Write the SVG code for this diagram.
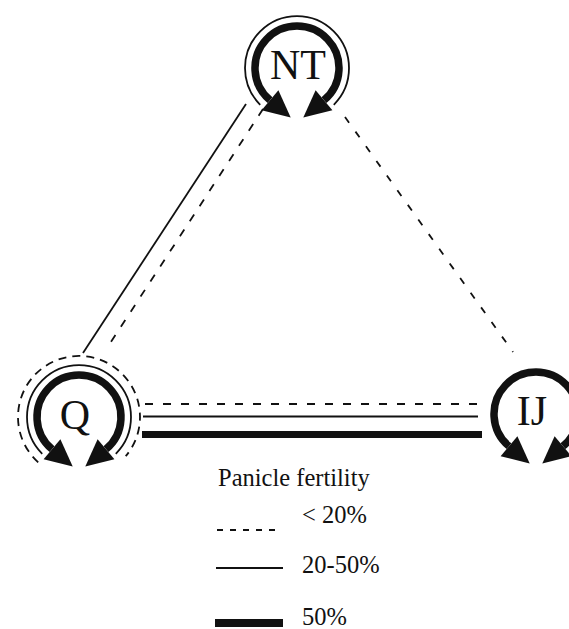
<svg xmlns="http://www.w3.org/2000/svg" width="569" height="629" viewBox="0 0 569 629">
<style>
text{font-family:'Liberation Serif','Times New Roman','DejaVu Serif',serif;fill:#111}
.lbl{font-size:42px;text-anchor:middle}
.leg{font-size:24.5px}
.ring{fill:none;stroke:#111;stroke-width:7.5}
.thin{fill:none;stroke:#111;stroke-width:1.8}
.dash{fill:none;stroke:#111;stroke-width:1.8;stroke-dasharray:8 10}
.head{fill:#111}
</style>
<defs>
<g id="cycle">
<path class="ring" d="M -27,32.2 A 42 42 0 1 1 27,32.2"/>
<polygon class="head" points="-35.4,42.2 -18.6,22.2 -6.3,49.6"/>
<polygon class="head" points="35.4,42.2 18.6,22.2 6.3,49.6"/>
</g>
</defs>
<rect width="569" height="629" fill="#fff"/>
<g id="connectors">
<line class="thin" x1="246" y1="104" x2="83" y2="353"/>
<line class="dash" x1="263" y1="109" x2="107" y2="348"/>
<line class="dash" x1="345" y1="117" x2="513" y2="352" style="stroke-dasharray:7 11"/>
<line class="dash" x1="145" y1="404" x2="478" y2="404"/>
<line class="thin" x1="143" y1="416.5" x2="478" y2="416.5" style="stroke-width:2"/>
<line x1="142" y1="434.5" x2="482" y2="434.5" stroke="#111" stroke-width="7"/>
</g>
<g id="node-NT" transform="translate(297,68)">
<path class="thin" d="M -36.8,36.8 A 52 52 0 1 1 36.8,36.8"/>
<use href="#cycle"/>
<text class="lbl" x="1" y="11" font-family="Liberation Serif, serif">NT</text>
</g>
<g id="node-Q" transform="translate(79,417)">
<path class="dash" d="M -40.8,45.3 A 61 61 0 1 1 46.7,39.2" style="stroke-dasharray:8 6"/>
<path class="thin" d="M -36.8,36.8 A 52 52 0 1 1 36.8,36.8"/>
<use href="#cycle"/>
<text class="lbl" x="-4" y="12" font-family="Liberation Serif, serif">Q</text>
</g>
<g id="node-IJ" transform="translate(536,414)">
<use href="#cycle"/>
<text class="lbl" x="-4" y="11" font-family="Liberation Serif, serif">IJ</text>
</g>
<g id="legend">
<text class="leg" x="218" y="486" font-family="Liberation Serif, serif">Panicle fertility</text>
<line x1="217" y1="530" x2="282" y2="530" stroke="#111" stroke-width="2" stroke-dasharray="6 7"/>
<text class="leg" x="302" y="523" font-family="Liberation Serif, serif">&lt; 20%</text>
<line x1="216" y1="568" x2="283" y2="568" stroke="#111" stroke-width="2"/>
<text class="leg" x="302" y="573" font-family="Liberation Serif, serif">20-50%</text>
<rect x="215" y="619" width="68" height="8" fill="#111"/>
<text class="leg" x="302" y="625" font-family="Liberation Serif, serif">50%</text>
</g>
</svg>
